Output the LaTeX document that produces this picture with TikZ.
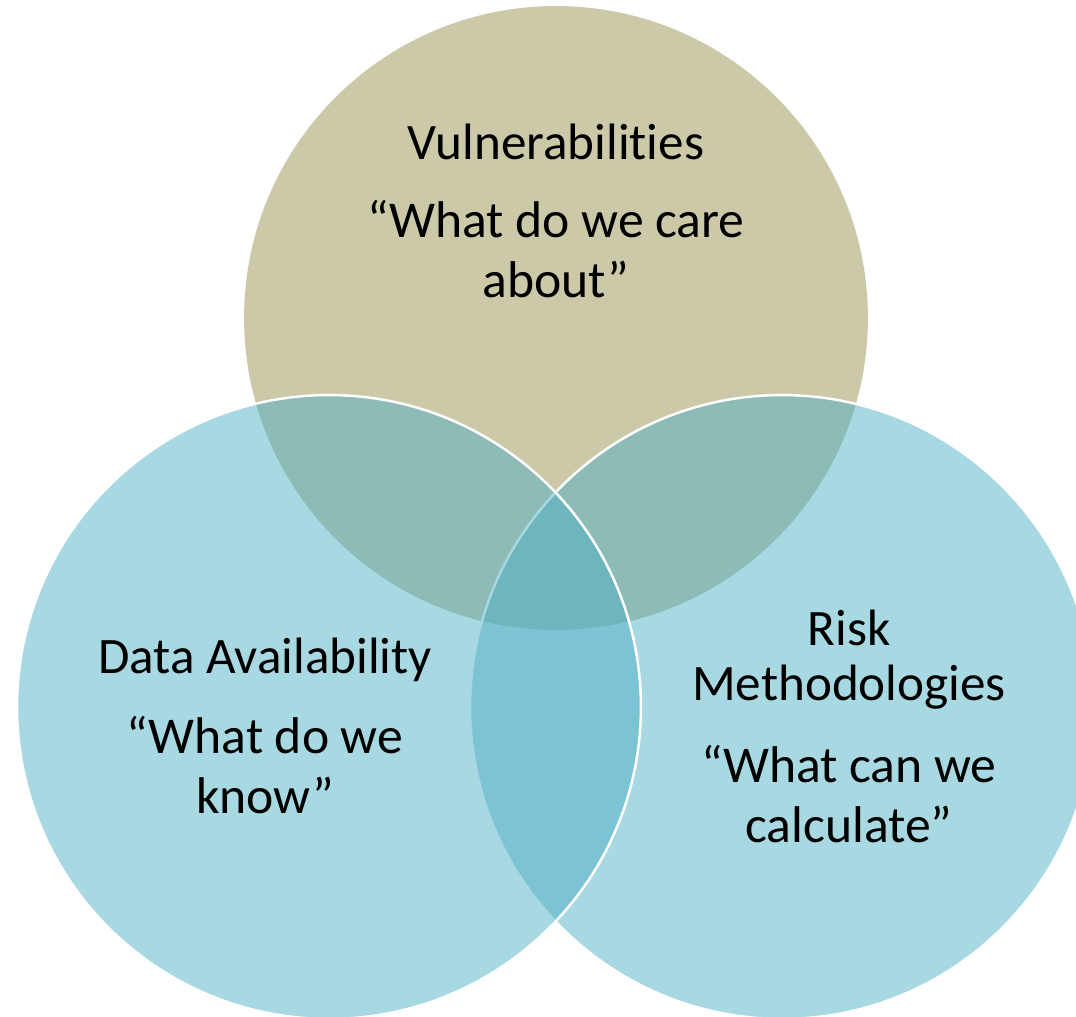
\documentclass[tikz,border=0pt]{standalone}
\usepackage{fontspec}
\setmainfont{Carlito}[Ligatures=NoCommon]
\definecolor{khaki}{RGB}{203,201,168}
\definecolor{teal}{RGB}{81,177,197}
\tikzset{
  ring/.style = {fill=teal, fill opacity=0.5, draw=white, draw opacity=1,
    line width=1.4pt},% blue circle, white edge
  topring/.style = {fill=khaki},
  heading/.style = {align=center, inner sep=0pt, anchor=base,
    font=\fontsize{29.1pt}{31.3pt}\selectfont},
  quote/.style = {align=center, inner sep=0pt, anchor=base,
    font=\fontsize{29.4pt}{33.6pt}\selectfont}
}
\begin{document}
\begin{tikzpicture}[x=0.02cm, y=-0.02cm]
  \useasboundingbox (0,0) rectangle (1076,1017);
  \coordinate (vc) at (556,318);
  \coordinate (dc) at (329,707);
  \coordinate (rc) at (782,707);
  % circles
  \fill [topring] (vc) circle (6.24cm);
  \path [ring] (rc) circle (6.24cm);
  \path [ring] (dc) circle (6.24cm);
  % labels (base = last line)
  \node (vt) [heading] at (556,160) {Vulnerabilities};
  \node (vq) [quote] at (556,297) {“What do we care\\about”};
  \node (dt) [heading] at (265,673) {Data Availability};
  \node (dq) [quote] at (265,813) {“What do we\\know”};
  \node (rt) [heading] at (849,700) {Risk\\Methodologies};
  \node (rq) [quote] at (849,842) {“What can we\\calculate”};
\end{tikzpicture}
\end{document}
